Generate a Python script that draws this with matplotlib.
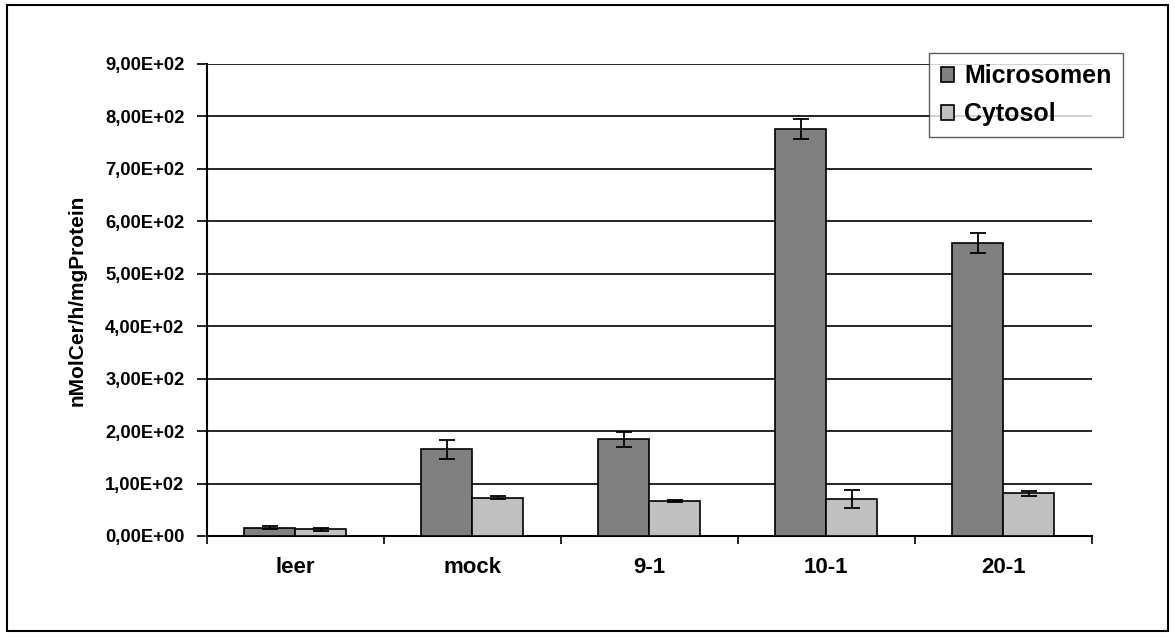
import matplotlib
matplotlib.use("Agg")
import matplotlib.pyplot as plt
from matplotlib.patches import Rectangle
import numpy as np

plt.rcParams['font.family'] = ['Liberation Sans', 'DejaVu Sans']
plt.rcParams['font.weight'] = 'bold'

categories = ["leer", "mock", "9-1", "10-1", "20-1"]
microsomen = [16, 165, 184, 776, 558]
microsomen_err = [3, 18, 15, 19, 19]
cytosol = [13, 73, 67, 70, 81]
cytosol_err = [3, 3, 2, 17, 5]
yticks = [0, 100, 200, 300, 400, 500, 600, 700, 800, 900]
ytick_labels = ["0,00E+00", "1,00E+02", "2,00E+02", "3,00E+02", "4,00E+02",
                "5,00E+02", "6,00E+02", "7,00E+02", "8,00E+02", "9,00E+02"]

fig = plt.figure(figsize=(11.75, 6.37), dpi=100)
ax = fig.add_axes([0.176, 0.1586, 0.753, 0.741])

# outer frame around the whole chart
fig.patches.append(Rectangle((0.006, 0.010), 0.988, 0.982, transform=fig.transFigure,
                             fill=False, edgecolor="black", linewidth=1.5))

x = np.arange(len(categories))
w = 0.288
ax.bar(x - w / 2, microsomen, w, color="#808080", edgecolor="black", linewidth=1.2,
       label="Microsomen", zorder=3)
ax.bar(x + w / 2, cytosol, w, color="#c0c0c0", edgecolor="black", linewidth=1.2,
       label="Cytosol", zorder=3)
ax.errorbar(x - w / 2, microsomen, yerr=microsomen_err, fmt="none", ecolor="black",
            elinewidth=1.3, capsize=5.5, capthick=1.3, zorder=4)
ax.errorbar(x + w / 2, cytosol, yerr=cytosol_err, fmt="none", ecolor="black",
            elinewidth=1.3, capsize=5.5, capthick=1.3, zorder=4)

ax.set_xlim(-0.5, len(categories) - 0.5)
ax.set_ylim(0, 900)
ax.set_yticks(yticks)
ax.set_yticklabels(ytick_labels, fontsize=13.2, fontweight="bold")
ax.yaxis.grid(True, color="black", linewidth=1.2, zorder=0)
ax.set_axisbelow(True)

ax.set_xticks(x)
ax.set_xticklabels(categories, fontsize=16, fontweight="bold")
ax.set_xticks(np.arange(-0.5, len(categories) + 0.5, 1), minor=True)
ax.tick_params(axis="x", which="major", length=0, pad=15)
ax.tick_params(axis="x", which="minor", length=6, width=1.2, direction="out")
ax.tick_params(axis="y", length=7, width=1.2, direction="out", pad=9)

for s in ["top", "right"]:
    ax.spines[s].set_visible(False)
for s in ["left", "bottom"]:
    ax.spines[s].set_linewidth(1.5)

ax.set_ylabel("nMolCer/h/mgProtein", fontsize=15, fontweight="bold", labelpad=13)

leg = ax.legend(loc="upper right", bbox_to_anchor=(0.9557, 0.9168),
                bbox_transform=fig.transFigure, borderaxespad=0,
                frameon=True, fancybox=False, edgecolor="#333333",
                handlelength=0.55, handleheight=0.55, handletextpad=0.4,
                borderpad=0.45, labelspacing=0.55, prop={"weight": "bold", "size": 18})
leg.get_frame().set_linewidth(1.0)
leg.set_zorder(5)

fig.savefig("out.png", dpi=100)
